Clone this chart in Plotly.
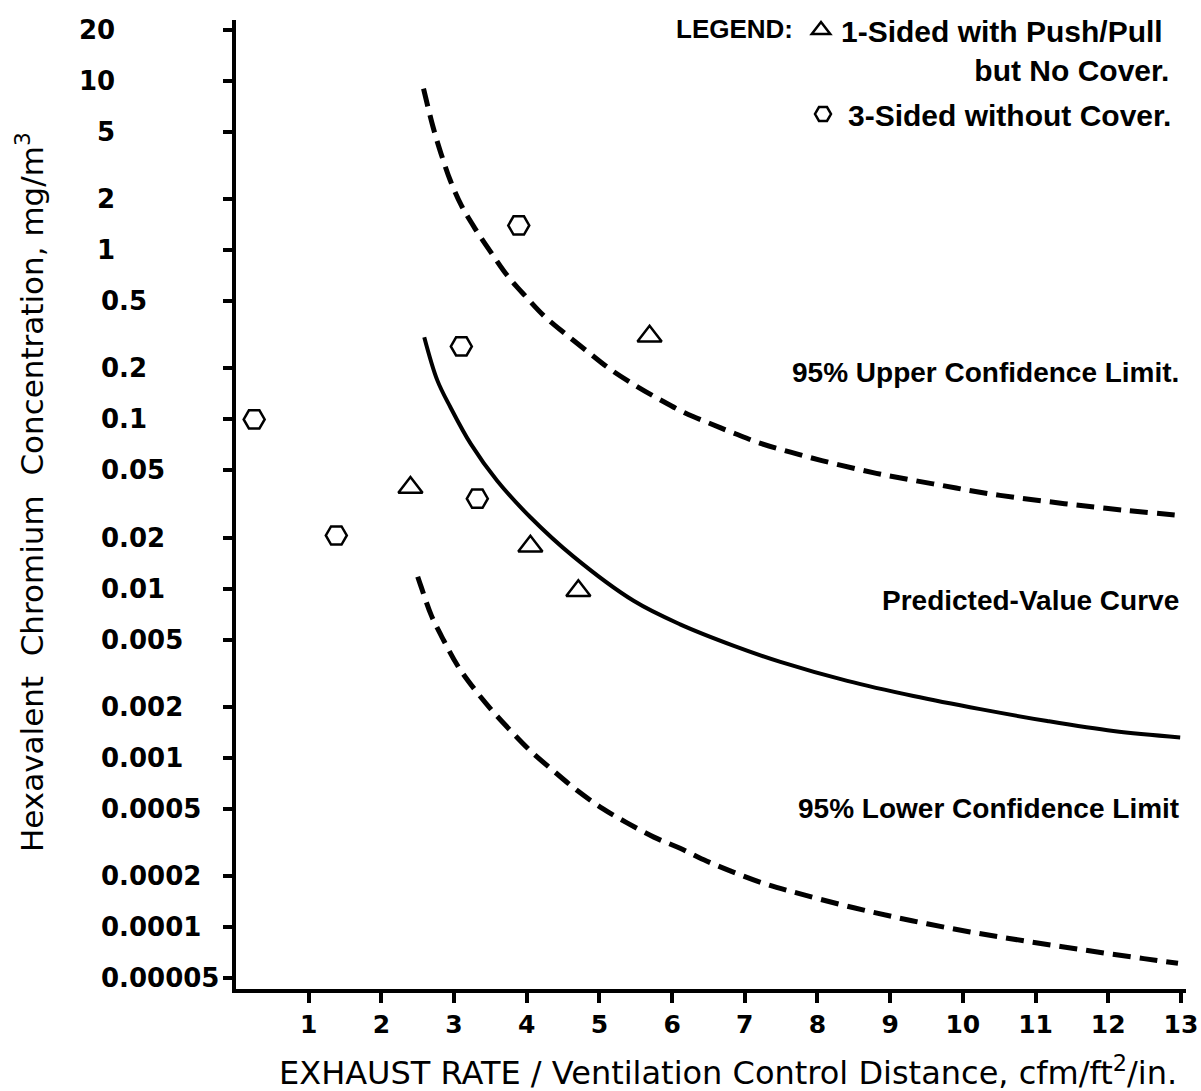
import math
import plotly.graph_objects as go

# ---------------- data ----------------
hex_x = [0.25, 1.38, 3.10, 3.32, 3.89]
hex_y = [0.100, 0.0206, 0.27, 0.034, 1.40]

tri_x = [2.40, 4.05, 4.71, 5.69]
tri_y = [0.0396, 0.0178, 0.0097, 0.31]

upper_x = [2.58, 2.71, 2.82, 2.95, 3.10, 3.28, 3.51, 3.73, 3.98, 4.24, 4.54, 4.85, 5.14, 5.50,
           5.83, 6.18, 6.53, 6.87, 7.24, 7.63, 8.06, 8.81, 9.59, 10.37, 11.16, 11.97, 13.02]
upper_y = [9.0, 5.36, 3.73, 2.57, 1.84, 1.36, 0.968, 0.710, 0.536, 0.408, 0.318, 0.249, 0.199, 0.158,
           0.131, 0.109, 0.0942, 0.0822, 0.0716, 0.0640, 0.0571, 0.0480, 0.0416, 0.0363, 0.0327,
           0.0298, 0.0270]

pred_x = [2.59, 2.77, 2.95, 3.23, 3.59, 4.05, 4.64, 5.47, 6.11, 6.85, 7.49, 8.41, 9.32,
          10.24, 11.16, 12.07, 12.99]
pred_y = [0.306, 0.170, 0.118, 0.0716, 0.0435, 0.0264, 0.0155, 0.00847, 0.00615, 0.00459,
          0.00369, 0.00285, 0.00232, 0.00194, 0.00165, 0.00144, 0.00132]

lower_x = [2.50, 2.55, 2.69, 2.86, 3.05, 3.28, 3.53, 3.79, 4.06, 4.37, 4.69, 5.04, 5.38, 5.75,
           6.11, 6.48, 6.87, 7.28, 7.67, 8.50, 9.30, 10.10, 10.88, 11.69, 12.49, 12.96]
lower_y = [0.01175, 0.01016, 0.00690, 0.00492, 0.00350, 0.00255, 0.00189, 0.00143, 0.00109,
           0.000836, 0.000643, 0.000503, 0.000413, 0.000340, 0.000292, 0.000245, 0.000209,
           0.000180, 0.000161, 0.000130, 0.000109, 0.0000936, 0.0000824, 0.0000729, 0.0000651,
           0.0000611]

y_ticks = [20, 10, 5, 2, 1, 0.5, 0.2, 0.1, 0.05, 0.02, 0.01, 0.005, 0.002, 0.001,
           0.0005, 0.0002, 0.0001, 0.00005]
y_tick_text = ["20", "10", "5", "2", "1", "0.5", "0.2", "0.1", "0.05", "0.02", "0.01", "0.005",
               "0.002", "0.001", "0.0005", "0.0002", "0.0001", "0.00005"]
x_ticks = list(range(1, 14))

curve_labels = [
    ("95% Upper Confidence Limit.", 0.19),
    ("Predicted-Value Curve", 0.00847),
    ("95% Lower Confidence Limit", 0.000505),
]

x_title = "EXHAUST RATE / Ventilation Control Distance, cfm/ft<sup>2</sup>/in."
y_title = "Hexavalent  Chromium  Concentration, mg/m<sup>3</sup>"

# ---------------- figure ----------------
W, H = 1201, 1091
ML, MR, MT, MB = 236, 15, 20, 102
PW = W - ML - MR
PH = H - MT - MB


def px_x(p):
    return (p - ML) / PW


def px_y(p):
    return 1 - (p - MT) / PH


fig = go.Figure()

line_style = dict(color="black", shape="spline", smoothing=1.0)
fig.add_trace(go.Scatter(x=upper_x, y=upper_y, mode="lines", showlegend=False,
                         line=dict(width=5, dash="18px,9px", **line_style), hoverinfo="skip"))
fig.add_trace(go.Scatter(x=pred_x, y=pred_y, mode="lines", showlegend=False,
                         line=dict(width=4, **line_style), hoverinfo="skip"))
fig.add_trace(go.Scatter(x=lower_x, y=lower_y, mode="lines", showlegend=False,
                         line=dict(width=5, dash="18px,9px", **line_style), hoverinfo="skip"))

nb = "\u00a0"
fig.add_trace(go.Scatter(
    x=tri_x, y=tri_y, mode="markers",
    name="1-Sided with Push/Pull<br>" + nb * 16 + "but No Cover.",
    marker=dict(symbol="triangle-up-open", size=21, color="black", line=dict(width=2.5, color="black")),
    legend="legend"))
fig.add_trace(go.Scatter(
    x=hex_x, y=hex_y, mode="markers",
    name="3-Sided without Cover.",
    marker=dict(symbol="hexagon2-open", size=21, color="black", line=dict(width=2.5, color="black")),
    legend="legend2"))

annotations = []
tick_font = dict(family="DejaVu Sans", size=26, color="black", weight="bold")
for v, t in zip(y_ticks, y_tick_text):
    if v >= 1:
        annotations.append(dict(x=px_x(117), xref="paper", xanchor="right",
                                y=math.log10(v), yref="y", yanchor="middle", text=t,
                                showarrow=False, font=tick_font))
    else:
        annotations.append(dict(x=px_x(99), xref="paper", xanchor="left",
                                y=math.log10(v), yref="y", yanchor="middle", text=t,
                                showarrow=False, font=tick_font))

for text, yv in curve_labels:
    annotations.append(dict(x=13.0, xref="x", xanchor="right", y=math.log10(yv), yref="y",
                            yanchor="middle", text=text, showarrow=False,
                            font=dict(family="Liberation Sans", size=28, color="black", weight="bold")))

annotations.append(dict(x=px_x(728), xref="paper", xanchor="center", y=px_y(1071), yref="paper",
                        yanchor="middle", text=x_title, showarrow=False,
                        font=dict(family="DejaVu Sans", size=32, color="black")))
annotations.append(dict(x=px_x(30), xref="paper", xanchor="center", y=px_y(492), yref="paper",
                        yanchor="middle", text=y_title, showarrow=False, textangle=-90,
                        font=dict(family="DejaVu Sans", size=31, color="black")))

legend_font = dict(family="Liberation Sans", size=30, color="black", weight="bold")
fig.update_layout(
    width=W, height=H,
    margin=dict(l=ML, r=MR, t=MT, b=MB, autoexpand=False),
    paper_bgcolor="white", plot_bgcolor="white",
    font=dict(family="DejaVu Sans", color="black"),
    annotations=annotations,
    legend=dict(
        x=px_x(674), xanchor="left", y=px_y(4), yanchor="top",
        bgcolor="rgba(0,0,0,0)", borderwidth=0, valign="top",
        title=dict(text="LEGEND:", side="left",
                   font=dict(family="Liberation Sans", size=26, color="black", weight="bold")),
        font=legend_font,
    ),
    legend2=dict(
        x=px_x(798), xanchor="left", y=px_y(88), yanchor="top",
        bgcolor="rgba(0,0,0,0)", borderwidth=0, itemwidth=40,
        font=legend_font,
    ),
)

fig.update_xaxes(
    range=[0, 13.07], showgrid=False, zeroline=False,
    showline=True, linecolor="black", linewidth=4,
    tickmode="array", tickvals=x_ticks, ticktext=[str(v) for v in x_ticks],
    ticks="outside", ticklen=10, tickwidth=4, tickcolor="black",
    tickfont=dict(family="DejaVu Sans", size=25, color="black", weight="bold"),
    automargin=False,
)
fig.update_yaxes(
    type="log", range=[-4.366, 1.36], showgrid=False, zeroline=False,
    showline=True, linecolor="black", linewidth=4,
    tickmode="array", tickvals=y_ticks, showticklabels=False,
    ticks="outside", ticklen=9, tickwidth=4, tickcolor="black",
    automargin=False,
)

fig.write_html("out.html")
